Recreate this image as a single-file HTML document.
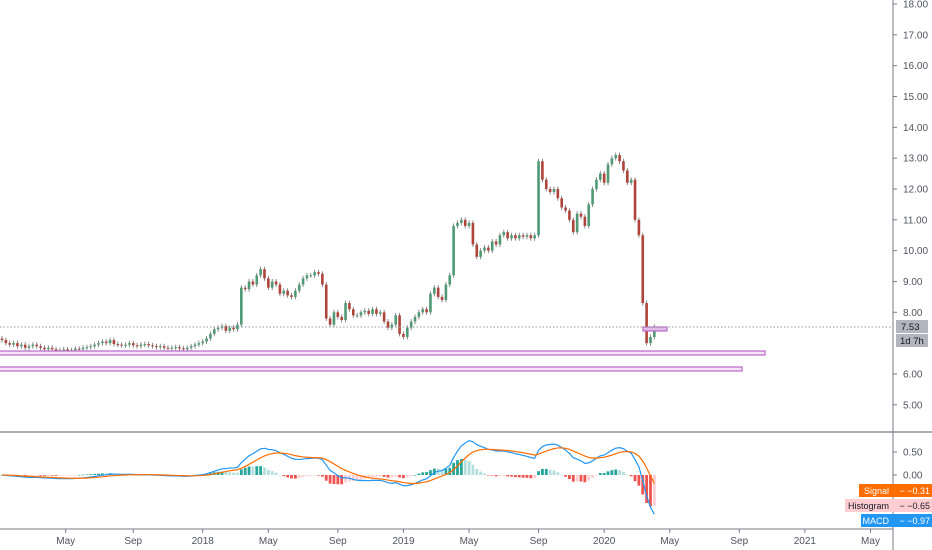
<!DOCTYPE html>
<html><head><meta charset="utf-8"><style>
html,body{margin:0;padding:0;background:#fff;}
svg{display:block;font-family:"Liberation Sans",sans-serif;}
</style></head><body>
<svg id="c" width="932" height="550" viewBox="0 0 932 550">
<g id="candles"></g>
<g id="levels">
<rect x="-2" y="351" width="767" height="4" fill="#f3e5f5" stroke="#ba68c8" stroke-width="1.2"/>
<rect x="-2" y="367" width="744" height="4" fill="#f3e5f5" stroke="#ba68c8" stroke-width="1.2"/>
<rect x="643" y="327" width="24" height="4" fill="#e1bee7" stroke="#ba68c8" stroke-width="1.2"/>
</g>
<line x1="0" y1="327" x2="893" y2="327" stroke="#9598a1" stroke-dasharray="1.5,2"/>
<g id="macd"></g>
<line x1="0" y1="432" x2="932" y2="432" stroke="#787b86" stroke-width="1.2"/>
<line x1="893" y1="0" x2="893" y2="550" stroke="#787b86"/>
<line x1="0" y1="529" x2="893" y2="529" stroke="#787b86"/>
<g id="yax"></g>
<g id="xax"></g>
<g font-size="9">
<rect x="896" y="320" width="32" height="13" fill="#b2b5be"/>
<text x="901" y="330" fill="#131722" font-size="9.5">7.53</text>
<rect x="896" y="334" width="32" height="13" fill="#b2b5be"/>
<text x="900" y="344" fill="#131722" font-size="9.5">1d 7h</text>
<rect x="859" y="484" width="73" height="13" fill="#ff6d00"/>
<text x="889" y="494" fill="#fff" text-anchor="end">Signal</text>
<text x="930" y="494" fill="#fff" text-anchor="end">− −0.31</text>
<rect x="845" y="499" width="87" height="13" fill="#ffcdd2"/>
<text x="889" y="509" fill="#131722" text-anchor="end">Histogram</text>
<text x="930" y="509" fill="#131722" text-anchor="end">− −0.65</text>
<rect x="861" y="514" width="71" height="13" fill="#2196f3"/>
<text x="889" y="524" fill="#fff" text-anchor="end">MACD</text>
<text x="930" y="524" fill="#fff" text-anchor="end">− −0.97</text>
</g>
</svg>
<script>
const closes=[7.1,7.0,6.95,7.0,6.9,6.95,6.85,6.9,6.95,6.9,6.85,6.8,6.85,
6.8,6.75,6.77,6.8,6.75,6.77,6.82,6.8,6.85,6.87,6.9,6.95,7.0,
7.05,7.0,7.1,6.97,6.95,6.93,6.95,7.0,6.93,6.9,6.95,6.97,6.93,
6.9,6.87,6.9,6.85,6.83,6.85,6.87,6.83,6.8,6.85,6.9,6.95,7.0,
7.05,7.15,7.3,7.45,7.5,7.55,7.4,7.5,7.45,7.6,
8.8,8.75,9.0,8.9,9.2,9.4,9.1,8.8,9.0,8.9,8.6,8.7,8.55,8.5,8.7,8.9,9.1,9.2,
9.2,9.3,9.25,8.9,7.8,7.6,8.0,7.85,7.75,8.3,8.1,7.9,7.9,8.0,8.05,7.95,8.1,7.95,8.0,7.7,7.5,7.6,7.9,
7.3,7.2,7.5,7.7,7.85,8.0,8.1,8.0,8.6,8.8,8.5,8.4,8.9,9.2,10.8,10.9,11.0,10.8,10.9,10.2,9.8,10.0,10.1,10.0,10.3,10.2,10.5,10.6,10.4,10.5,10.4,10.5,10.45,
10.5,10.4,10.5,12.9,12.3,12.0,11.9,12.0,11.7,11.4,11.3,11.0,10.6,11.2,11.1,10.8,11.5,12.0,12.3,12.5,12.2,12.8,13.0,13.1,12.9,12.6,12.2,12.3,11.0,10.5,8.3,7.0,7.2,7.53];
const priceTicks=[18,17,16,15,14,13,12,11,10,9,8,6,5];
const macdTicks=[0.5,0];
const timeLabels=["May","Sep","2018","May","Sep","2019","May","Sep","2020","May","Sep","2021","May"];
const timeLabelWeeks=[16.5,34,52,69,87,104,121,139,156,173,191,208,225];

const NS="http://www.w3.org/2000/svg";
const X=i=>2+i*3.86;
const Y=p=>4+(18-p)*30.83;
const MY=v=>475-v*46;
function mk(tag,attrs,parent){const e=document.createElementNS(NS,tag);for(const k in attrs)e.setAttribute(k,attrs[k]);parent.appendChild(e);return e;}
const cg=document.getElementById('candles');
for(let i=0;i<closes.length;i++){
  const o=i?closes[i-1]:closes[0]+0.05,c=closes[i];
  const up=c>=o;
  const hi=Math.max(o,c)+0.08,lo=Math.min(o,c)-0.08;
  const w=mk('line',{x1:X(i),x2:X(i),y1:Y(hi),y2:Y(lo),stroke:'#6b6b6b','stroke-width':0.8},cg);
  
  
  const top=Y(Math.max(o,c)),h=Math.max(1,Math.abs(Y(o)-Y(c)));
  const r=mk('rect',{x:X(i)-1.3,y:top,width:2.6,height:h,fill:up?'#4f9a75':'#b0433a'},cg);
  
  
}
function ema(a,n){const k=2/(n+1);const out=[];let v=a[0];for(let i=0;i<a.length;i++){v=i?a[i]*k+v*(1-k):a[0];out.push(v);}return out;}
const e12=ema(closes,12),e26=ema(closes,26);
const macd=closes.map((_,i)=>e12[i]-e26[i]);
const sig=ema(macd,9);
const mg=document.getElementById('macd');
for(let i=0;i<closes.length;i++){
  const h=macd[i]-sig[i],ph=i?macd[i-1]-sig[i-1]:0;
  let col=h>=0?(h>=ph?'#26a69a':'#b2dfdb'):(h<ph?'#ef5350':'#ffcdd2');
  const b=mk('rect',{x:X(i)-1.4,y:Math.min(MY(0),MY(h)),width:2.8,height:Math.max(0.6,Math.abs(MY(h)-MY(0))),fill:col},mg);
  
  
}
const ml=mk('polyline',{points:macd.map((v,i)=>X(i)+','+MY(v)).join(' '),fill:'none',stroke:'#2196f3','stroke-width':1.2},mg);


const sl=mk('polyline',{points:sig.map((v,i)=>X(i)+','+MY(v)).join(' '),fill:'none',stroke:'#ff6d00','stroke-width':1.2},mg);


const ya=document.getElementById('yax');
priceTicks.forEach(p=>{
  const l=mk('line',{x1:893,x2:897,y1:Y(p),y2:Y(p),stroke:'#787b86'},ya);
  
  
  const t=mk('text',{x:903,y:Y(p)+3.5,'font-size':10,fill:'#50535e'},ya);
  t.textContent=p.toFixed(2);
  
  
});
macdTicks.forEach(v=>{
  const l=mk('line',{x1:893,x2:897,y1:MY(v),y2:MY(v),stroke:'#787b86'},ya);
  
  
  const t=mk('text',{x:903,y:MY(v)+3.5,'font-size':10,fill:'#50535e'},ya);
  t.textContent=v.toFixed(2);
  
  
});
const xa=document.getElementById('xax');
timeLabels.forEach((s,i)=>{
  const x=X(timeLabelWeeks[i]);
  const l=mk('line',{x1:x,x2:x,y1:529,y2:533,stroke:'#787b86'},xa);
  
  
  const t=mk('text',{x:x,y:544,'font-size':10,fill:'#50535e','text-anchor':'middle'},xa);
  t.textContent=s;
  
  
});
</script>
</body></html>
